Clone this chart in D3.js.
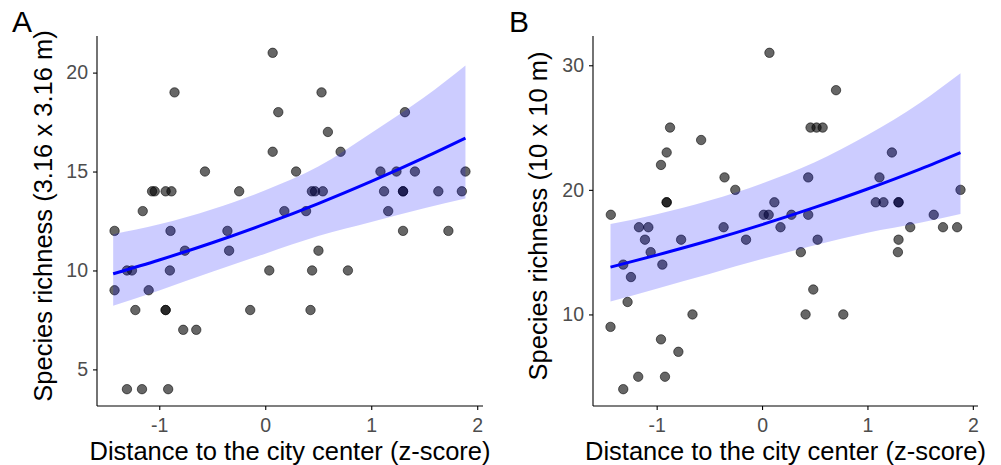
<!DOCTYPE html>
<html>
<head>
<meta charset="utf-8">
<script src="https://d3js.org/d3.v7.min.js"></script>
<style>
body { margin: 0; background: #fff; font-family: "Liberation Sans", Arial, sans-serif; }
.axis path, .axis line { stroke: #000; stroke-width: 1.1px; }
.axis text { fill: #4d4d4d; font-size: 19.5px; font-family: "Liberation Sans", Arial, sans-serif; }
.title { font-size: 25.5px; fill: #000; }
.tag { font-size: 30px; fill: #000; }
</style>
</head>
<body>
<div id="chart"></div>
<script>
// panel A: 3.16 x 3.16 m plots
var xA = [0.07, -0.856, 0.531, 0.123, 1.318, 0.591, 0.07, 0.711,
  -0.569, 0.291, 1.087, 1.238, 1.412, 1.889,
  -1.068, -1.043, -0.94, -0.885, -0.246, 0.44, 0.47, 0.543, 1.121, 1.30, 1.30, 1.633, 1.855,
  -1.156, 0.18, 0.385, 1.16,
  -1.422, -0.894, -0.357, 1.30, 1.728,
  -0.758, -0.341, 0.502,
  -1.305, -1.258, -0.9, 0.038, 0.442, 0.78,
  -1.422, -1.1,
  -1.226, -0.94, -0.94, -0.142, 0.427,
  -0.774, -0.651,
  -1.305, -1.163, -0.916];
var yA = [21, 19, 19, 18, 18, 17, 16, 16,
  15, 15, 15, 15, 15, 15,
  14, 14, 14, 14, 14, 14, 14, 14, 14, 14, 14, 14, 14,
  13, 13, 13, 13,
  12, 12, 12, 12, 12,
  11, 11, 11,
  10, 10, 10, 10, 10, 10,
  9, 9,
  8, 8, 8, 8, 8,
  7, 7,
  4, 4, 4];

// panel B: 10 x 10 m plots
var xB = [0.07, 0.702,
  -0.873, 0.46, 0.517, 0.575,
  -0.578,
  -0.905, 1.232,
  -0.959,
  -0.356, 0.438, 1.114,
  -0.254, 1.883,
  -0.905, -0.905, 0.117, 1.079, 1.152, 1.295, 1.295,
  -1.435, 0.016, 0.063, 0.279, 0.438, 1.629,
  -1.168, -1.079, -0.365, 0.175, 1.406, 1.717, 1.851,
  -1.111, -0.768, -0.152, 0.527, 1.295,
  -1.057, 0.368, 1.289,
  -1.317, -0.946,
  -1.244, 0.486, -1.276,
  -0.66, 0.413, 0.771,
  -1.438, -0.959, -0.794,
  -1.175, -0.921,
  -1.317];
var yB = [31, 28,
  25, 25, 25, 25,
  24,
  23, 23,
  22,
  21, 21, 21,
  20, 20,
  19, 19, 19, 19, 19, 19, 19,
  18, 18, 18, 18, 18, 18,
  17, 17, 17, 17, 17, 17, 17,
  16, 16, 16, 16, 16,
  15, 15, 15,
  14, 14,
  13, 12, 11,
  10, 10, 10,
  9, 8, 7,
  5, 5,
  4];

// fitted curve and confidence band
var fitXA = [-1.435, -1, -0.5, 0, 0.5, 1, 1.5, 1.889];
var fitA = [9.83, 10.53, 11.40, 12.35, 13.38, 14.50, 15.70, 16.69];
var lowA = [8.22, 8.99, 9.93, 10.85, 11.74, 12.45, 13.15, 13.64];
var upA = [11.83, 12.33, 13.09, 14.05, 15.25, 16.95, 18.75, 20.36];

var fitXB = [-1.438, -1, -0.5, 0, 0.5, 1, 1.5, 1.883];
var fitB = [13.80, 14.76, 15.93, 17.21, 18.59, 20.07, 21.67, 22.99];
var lowB = [11.04, 12.07, 13.25, 14.44, 15.56, 16.55, 17.35, 18.07];
var upB = [17.25, 18.05, 19.15, 20.52, 22.22, 24.40, 27.0, 29.36];

var xTicks = [-1, 0, 1, 2];
var yTicksA = [5, 10, 15, 20];
var yTicksB = [10, 20, 30];

var xTitle = "Distance to the city center (z-score)";

var svg = d3.select("#chart").append("svg")
  .attr("width", 1001)
  .attr("height", 465);

function expand(lo, hi) {
  var d = (hi - lo) * 0.05;
  return [lo - d, hi + d];
}

// plain hyphen for negatives, like the original
var fmt = d => String(d);

function panel(opt) {
  var x = d3.scaleLinear()
    .domain(expand(d3.min(opt.xs), d3.max(opt.xs)))
    .range([opt.left, opt.right]);
  var y = d3.scaleLinear()
    .domain(expand(d3.min(opt.ys), d3.max(opt.ys)))
    .range([406, 36]);

  var g = svg.append("g");

  // points
  g.append("g").selectAll("circle")
    .data(opt.xs.map((d, i) => [d, opt.ys[i]]))
    .enter().append("circle")
    .attr("cx", d => x(d[0]))
    .attr("cy", d => y(d[1]))
    .attr("r", 4.7)
    .style("fill", "#000")
    .style("fill-opacity", 0.6)
    .style("stroke", "#000")
    .style("stroke-opacity", 0.55)
    .style("stroke-width", 1);

  var band = opt.fx.map((d, i) => ({x: d, lo: opt.lo[i], hi: opt.hi[i], f: opt.fit[i]}));

  var area = d3.area()
    .x(d => x(d.x))
    .y0(d => y(d.lo))
    .y1(d => y(d.hi))
    .curve(d3.curveMonotoneX);
  g.append("path")
    .datum(band)
    .attr("d", area)
    .style("fill", "#0000ff")
    .style("fill-opacity", 0.2);

  var line = d3.line()
    .x(d => x(d.x))
    .y(d => y(d.f))
    .curve(d3.curveMonotoneX);
  g.append("path")
    .datum(band)
    .attr("d", line)
    .style("fill", "none")
    .style("stroke", "#0000ff")
    .style("stroke-width", 3);

  // axes
  g.append("g")
    .attr("class", "axis")
    .attr("transform", "translate(0,406)")
    .call(d3.axisBottom(x).tickValues(xTicks).tickFormat(fmt).tickSizeOuter(0).tickSize(4).tickPadding(8))
    .call(a => a.select(".domain").attr("d", "M" + (opt.left) + ",0H" + opt.right));
  g.append("g")
    .attr("class", "axis")
    .attr("transform", "translate(" + opt.left + ",0)")
    .call(d3.axisLeft(y).tickValues(opt.yTicks).tickFormat(fmt).tickSizeOuter(0).tickSize(4).tickPadding(5))
    .call(a => a.select(".domain").attr("d", "M0,36V406"));

  g.append("text")
    .attr("class", "title")
    .attr("text-anchor", "middle")
    .attr("x", (opt.left + opt.right) / 2)
    .attr("y", 460)
    .text(xTitle);
  g.append("text")
    .attr("class", "title")
    .attr("text-anchor", "middle")
    .attr("transform", "translate(" + opt.ytx + ",216) rotate(-90)")
    .text(opt.yTitle);
  g.append("text")
    .attr("class", "tag")
    .attr("x", opt.tagx)
    .attr("y", 32)
    .text(opt.tag);
}

panel({xs: xA, ys: yA, fx: fitXA, fit: fitA, lo: lowA, hi: upA,
  left: 97, right: 483, yTicks: yTicksA, ytx: 52,
  yTitle: "Species richness (3.16 x 3.16 m)", tag: "A", tagx: 12});
panel({xs: xB, ys: yB, fx: fitXB, fit: fitB, lo: lowB, hi: upB,
  left: 593, right: 978, yTicks: yTicksB, ytx: 547,
  yTitle: "Species richness (10 x 10 m)", tag: "B", tagx: 509});
</script>
</body>
</html>
